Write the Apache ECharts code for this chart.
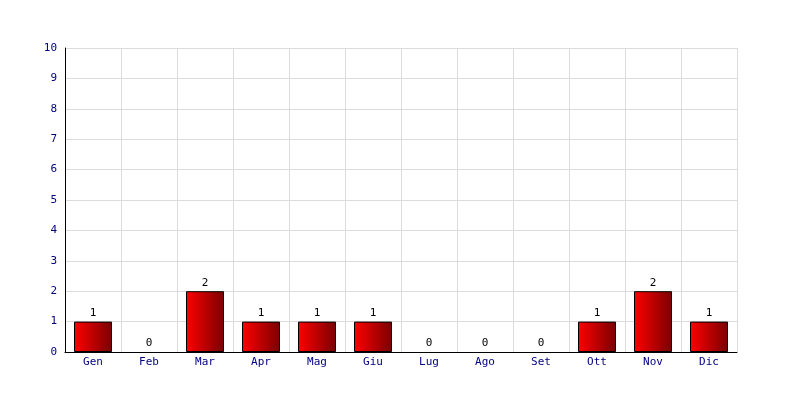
<!DOCTYPE html>
<html><head><meta charset="utf-8">
<script src="https://cdn.jsdelivr.net/npm/echarts@6/dist/echarts.min.js"></script>
<style>html,body{margin:0;padding:0;background:#fff}#c{width:800px;height:400px}</style>
</head><body><div id="c"></div>
<script>
var months = ['Gen','Feb','Mar','Apr','Mag','Giu','Lug','Ago','Set','Ott','Nov','Dic'];
var values = [1,0,2,1,1,1,0,0,0,1,2,1];
var yTicks = [0,1,2,3,4,5,6,7,8,9,10];
var chart = echarts.init(document.getElementById('c'), null, {renderer:'canvas'});
var font = 'DejaVu Sans Mono';
var barData = values.map(function(v){
  return v === 0 ? {value:v, itemStyle:{borderWidth:0, opacity:1}} : {value:v};
});
chart.setOption({
  animation:false,
  backgroundColor:'#fff',
  grid:{left:65,right:63,top:48,bottom:48,containLabel:false,show:false},
  xAxis:{type:'category',data:months,
    axisLine:{lineStyle:{color:'#000',width:1}},
    axisTick:{show:false},
    axisLabel:{color:'#000080',fontFamily:font,fontSize:11,margin:5},
    splitLine:{show:true,lineStyle:{color:'#dcdcdc',width:1}}
  },
  yAxis:{type:'value',min:yTicks[0],max:yTicks[yTicks.length-1],interval:1,
    axisLine:{show:true,lineStyle:{color:'#000',width:1}},
    axisTick:{show:false},
    axisLabel:{color:'#000080',fontFamily:font,fontSize:11,margin:8},
    splitLine:{show:true,lineStyle:{color:'#dcdcdc',width:1}}
  },
  series:[{type:'bar',data:barData,barWidth:38,
    itemStyle:{borderColor:'#000',borderWidth:1,
      color:new echarts.graphic.LinearGradient(0,0,1,0,[{offset:0,color:'#ff0000'},{offset:1,color:'#7a0000'}])},
    label:{show:true,position:'top',color:'#000',fontFamily:font,fontSize:11,distance:3}
  }]
});
</script></body></html>
